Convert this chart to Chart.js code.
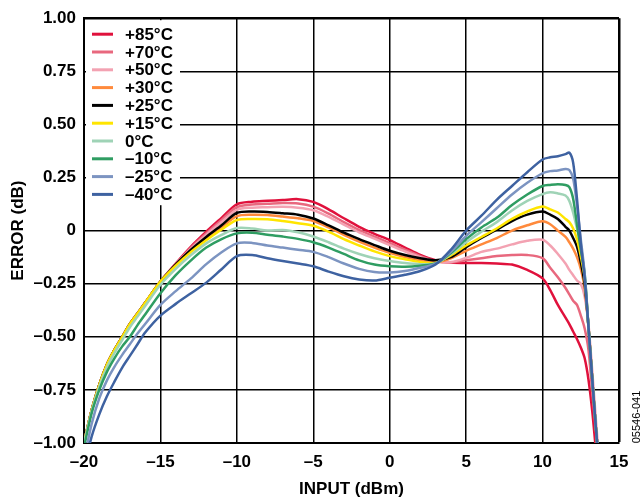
<!DOCTYPE html>
<html>
<head>
<meta charset="utf-8">
<script src="https://cdn.jsdelivr.net/npm/chart.js@4.4.1/dist/chart.umd.min.js"></script>
<style>
  html, body { margin: 0; padding: 0; background: #fff; }
  canvas { display: block; }
</style>
</head>
<body>
<canvas id="errChart" width="643" height="503"></canvas>
<script>
// input level, dBm (shared by every temperature curve)
const inputDbm = [-20, -19.5, -19, -18.5, -18, -17.5, -17, -16.5, -16, -15, -14, -13, -12, -11,
    -10, -9, -8, -7, -6, -5, -4, -3, -2, -1, 0, 1, 2, 3,
    4, 5, 6, 7, 8, 9, 10,
    10.5, 11, 11.5, 11.75, 12, 12.25, 12.5, 12.75, 13, 13.25, 13.5, 13.75];

// error, dB, one list per temperature
const errP85 = [-1.0, -0.845, -0.725, -0.63, -0.56, -0.5, -0.44, -0.39, -0.34, -0.24, -0.155, -0.075, -0.005, 0.06,
    0.124, 0.136, 0.14, 0.144, 0.148, 0.135, 0.1, 0.058, 0.018, -0.015, -0.045, -0.08, -0.115, -0.14,
    -0.15, -0.153, -0.153, -0.155, -0.16, -0.185, -0.225,
    -0.28, -0.35, -0.41, -0.44, -0.475, -0.51, -0.55, -0.6, -0.7, -0.85, -1.04, -1.2];
const errP70 = [-1.0, -0.845, -0.725, -0.63, -0.56, -0.5, -0.44, -0.39, -0.34, -0.24, -0.158, -0.08, -0.013, 0.05,
    0.11, 0.123, 0.126, 0.13, 0.128, 0.113, 0.08, 0.04, 0.003, -0.028, -0.058, -0.09, -0.12, -0.143,
    -0.15, -0.14, -0.13, -0.12, -0.115, -0.115, -0.13,
    -0.175, -0.22, -0.27, -0.3, -0.33, -0.35, -0.4, -0.46, -0.56, -0.76, -0.95, -1.12];
const errP50 = [-1.0, -0.845, -0.725, -0.63, -0.56, -0.5, -0.44, -0.39, -0.34, -0.24, -0.16, -0.085, -0.02, 0.04,
    0.098, 0.108, 0.11, 0.112, 0.108, 0.096, 0.065, 0.028, -0.008, -0.038, -0.068, -0.098, -0.125, -0.145,
    -0.148, -0.128, -0.1, -0.085, -0.065, -0.048, -0.043,
    -0.07, -0.11, -0.155, -0.185, -0.21, -0.235, -0.25, -0.31, -0.44, -0.66, -0.9, -1.13];
const errP30 = [-1.0, -0.845, -0.725, -0.63, -0.56, -0.5, -0.44, -0.39, -0.34, -0.24, -0.162, -0.095, -0.035, 0.015,
    0.068, 0.075, 0.073, 0.066, 0.058, 0.045, 0.015, -0.02, -0.052, -0.08, -0.105, -0.125, -0.14, -0.15,
    -0.13, -0.095, -0.065, -0.035, 0.0, 0.025, 0.044,
    0.03, 0.0, -0.03, -0.055, -0.085, -0.125, -0.18, -0.27, -0.45, -0.7, -0.94, -1.15];
const errP25 = [-1.0, -0.845, -0.725, -0.63, -0.56, -0.5, -0.44, -0.39, -0.34, -0.24, -0.16, -0.09, -0.03, 0.025,
    0.083, 0.09, 0.088, 0.082, 0.075, 0.057, 0.025, -0.01, -0.04, -0.068, -0.095, -0.115, -0.13, -0.14,
    -0.125, -0.078, -0.035, 0.005, 0.045, 0.075, 0.09,
    0.075, 0.055, 0.018, 0.0, -0.035, -0.075, -0.15, -0.25, -0.45, -0.7, -0.94, -1.15];
const errP15 = [-1.0, -0.845, -0.725, -0.63, -0.56, -0.5, -0.44, -0.39, -0.34, -0.24, -0.165, -0.1, -0.045, 0.005,
    0.05, 0.055, 0.053, 0.045, 0.035, 0.023, -0.005, -0.04, -0.07, -0.098, -0.12, -0.135, -0.148, -0.152,
    -0.117, -0.07, -0.03, 0.01, 0.055, 0.09, 0.113,
    0.1, 0.085, 0.055, 0.04, 0.01, -0.04, -0.12, -0.22, -0.45, -0.7, -0.94, -1.15];
const errZero = [-1.0, -0.85, -0.735, -0.645, -0.575, -0.515, -0.455, -0.405, -0.355, -0.255, -0.18, -0.115, -0.06, -0.02,
    0.012, 0.01, 0.0, 0.003, -0.008, -0.028, -0.055, -0.085, -0.11, -0.13, -0.143, -0.153, -0.158, -0.155,
    -0.11, -0.055, -0.005, 0.04, 0.095, 0.14, 0.172,
    0.18, 0.175, 0.165, 0.14, 0.085, 0.01, -0.07, -0.21, -0.45, -0.7, -0.94, -1.15];
const errM10 = [-1.02, -0.86, -0.75, -0.665, -0.6, -0.545, -0.5, -0.445, -0.395, -0.295, -0.21, -0.14, -0.08, -0.04,
    -0.013, -0.01, -0.019, -0.028, -0.039, -0.055, -0.08, -0.11, -0.14, -0.16, -0.168, -0.17, -0.165, -0.155,
    -0.105, -0.04, 0.015, 0.06, 0.12, 0.17, 0.21,
    0.215, 0.218, 0.215, 0.205, 0.15, 0.03, -0.09, -0.2, -0.45, -0.7, -0.94, -1.15];
const errM25 = [-1.08, -0.91, -0.79, -0.705, -0.64, -0.585, -0.535, -0.485, -0.44, -0.35, -0.285, -0.225, -0.158, -0.102,
    -0.06, -0.058, -0.07, -0.08, -0.09, -0.1, -0.125, -0.155, -0.18, -0.195, -0.197, -0.19, -0.175, -0.155,
    -0.1, -0.025, 0.04, 0.105, 0.17, 0.225, 0.27,
    0.28, 0.283, 0.29, 0.285, 0.245, 0.12, -0.04, -0.2, -0.45, -0.7, -0.94, -1.15];
const errM40 = [-1.12, -0.97, -0.865, -0.78, -0.71, -0.645, -0.59, -0.535, -0.48, -0.4, -0.345, -0.295, -0.245, -0.182,
    -0.12, -0.115, -0.13, -0.143, -0.155, -0.168, -0.193, -0.215, -0.23, -0.235, -0.222, -0.208, -0.19, -0.16,
    -0.09, 0.0, 0.07, 0.145, 0.21, 0.275, 0.335,
    0.345, 0.35, 0.36, 0.367, 0.32, 0.15, -0.06, -0.22, -0.45, -0.7, -0.94, -1.15];

const seriesNames = ['+85°C', '+70°C', '+50°C', '+30°C', '+25°C', '+15°C', '0°C', '\u201310°C', '\u201325°C', '\u201340°C'];
const seriesValues = [errP85, errP70, errP50, errP30, errP25, errP15, errZero, errM10, errM25, errM40];
const seriesColors = ['#e0113c', '#e8687e', '#f3a2b2', '#ff8a3c', '#000000', '#ffe500', '#9fd3b6', '#2f9d62', '#7c94c1', '#3e62a1'];

const xTicks = [-20, -15, -10, -5, 0, 5, 10, 15];
const yTicks = [-1, -0.75, -0.5, -0.25, 0, 0.25, 0.5, 0.75, 1];

const FONT = "'Liberation Sans', Arial, Helvetica, sans-serif";

function dash(s) {
    return s.replace('-', '\u2013');
}

// legend sits inside the plot, top-left, on a white patch over the grid
const insideLegend = {
    id: 'insideLegend',
    beforeDatasetsDraw(chart) {
        const { ctx, chartArea } = chart;
        ctx.save();
        ctx.fillStyle = '#fff';
        ctx.fillRect(chartArea.left + 2, chartArea.top + 2, 94, 185);
        ctx.font = 'bold 17px ' + FONT;
        ctx.textBaseline = 'middle';
        seriesNames.forEach((name, i) => {
            const y = chartArea.top + 16 + i * 17.8;
            ctx.strokeStyle = seriesColors[i];
            ctx.lineWidth = 3;
            ctx.beginPath();
            ctx.moveTo(chartArea.left + 8, y);
            ctx.lineTo(chartArea.left + 29, y);
            ctx.stroke();
            ctx.fillStyle = '#000';
            ctx.fillText(name, chartArea.left + 41, y + 1);
        });
        ctx.restore();
    },
    afterDraw(chart) {
        const { ctx } = chart;
        ctx.save();
        ctx.translate(637, 417);
        ctx.rotate(-Math.PI / 2);
        ctx.font = '11px ' + FONT;
        ctx.fillStyle = '#000';
        ctx.textAlign = 'center';
        ctx.textBaseline = 'middle';
        ctx.fillText('05546-041', 0, 0);
        ctx.restore();
    }
};

const datasets = seriesNames.map((name, i) => ({
    label: name,
    data: inputDbm.map((x, j) => ({ x: x, y: seriesValues[i][j] })),
    borderColor: seriesColors[i],
    borderWidth: 2.5,
    pointRadius: 0,
    fill: false,
    tension: 0.3,
    order: seriesNames.length - i
}));

const ctx = document.getElementById('errChart').getContext('2d');
new Chart(ctx, {
    type: 'line',
    data: { datasets: datasets },
    options: {
        responsive: false,
        animation: false,
        devicePixelRatio: 1,
        layout: { padding: { left: 0, top: 16, right: 24, bottom: 0 } },
        plugins: {
            legend: { display: false },
            tooltip: { enabled: false }
        },
        scales: {
            x: {
                type: 'linear',
                min: -20,
                max: 15,
                afterFit: scale => { scale.height = 60; },
                afterBuildTicks: scale => { scale.ticks = xTicks.map(v => ({ value: v })); },
                ticks: {
                    color: '#000',
                    padding: 9,
                    maxRotation: 0,
                    font: { family: FONT, size: 17, weight: 'bold' },
                    callback: v => dash(String(v))
                },
                grid: {
                    color: '#000',
                    lineWidth: c => (c.tick && c.tick.value === 15 ? 2.5 : 1.5),
                    drawTicks: false
                },
                border: { display: true, color: '#000', width: 2 },
                title: {
                    display: true,
                    text: 'INPUT (dBm)',
                    color: '#000',
                    padding: { top: 0, bottom: 3 },
                    font: { family: FONT, size: 17, weight: 'bold' }
                }
            },
            y: {
                min: -1,
                max: 1,
                afterFit: scale => { scale.width = 84; },
                afterBuildTicks: scale => { scale.ticks = yTicks.map(v => ({ value: v })); },
                ticks: {
                    color: '#000',
                    padding: 8,
                    font: { family: FONT, size: 17, weight: 'bold' },
                    callback: v => (v === 0 ? '0' : dash(v.toFixed(2)))
                },
                grid: {
                    color: '#000',
                    lineWidth: c => (c.tick && c.tick.value === 1 ? 2.5 : 1.5),
                    drawTicks: false
                },
                border: { display: true, color: '#000', width: 2 },
                title: {
                    display: true,
                    text: 'ERROR (dB)',
                    color: '#000',
                    padding: { top: 8, bottom: 0 },
                    font: { family: FONT, size: 17, weight: 'bold' }
                }
            }
        }
    },
    plugins: [insideLegend]
});
</script>
</body>
</html>
